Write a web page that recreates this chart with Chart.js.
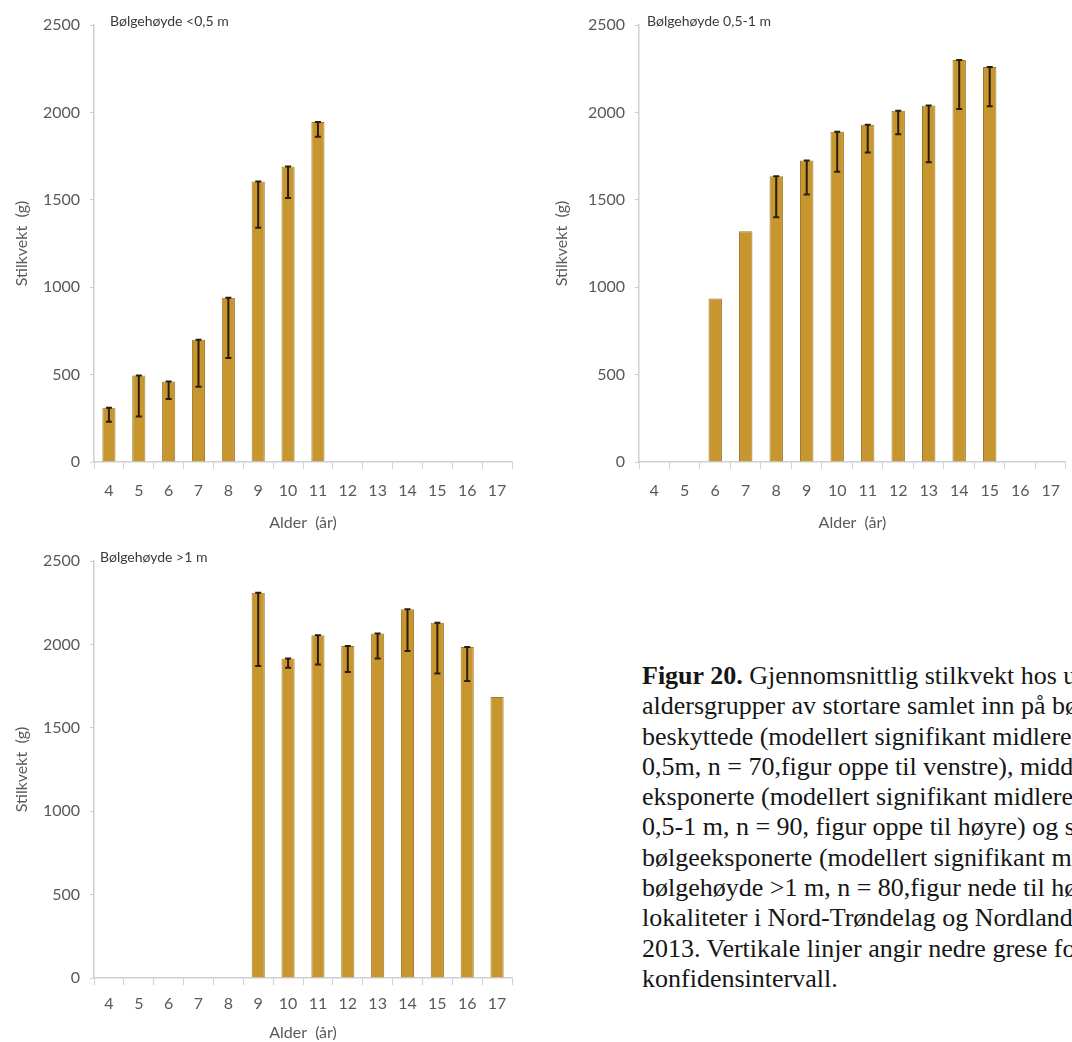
<!DOCTYPE html>
<html>
<head>
<meta charset="utf-8">
<script src="https://cdn.jsdelivr.net/npm/chart.js@4.4.1/dist/chart.umd.min.js"></script>
<style>
  html, body { margin: 0; padding: 0; background: #fff; }
  body { width: 1072px; height: 1042px; overflow: hidden; position: relative; }
  .panel { position: absolute; }
  .panel canvas { display: block; }
  #caption {
    position: absolute; left: 642px; top: 661px;
    font-family: "Liberation Serif", "Times New Roman", serif;
    font-size: 26px; line-height: 30.3px; color: #161616;
    white-space: nowrap;
  }
</style>
</head>
<body>
<div class="panel" style="left:0;top:0"><canvas id="cLow" width="540" height="532"></canvas></div>
<div class="panel" style="left:540px;top:0"><canvas id="cMid" width="532" height="532"></canvas></div>
<div class="panel" style="left:0;top:530px"><canvas id="cHigh" width="540" height="512"></canvas></div>

<div id="caption">
  <div><b>Figur 20.</b> Gjennomsnittlig stilkvekt hos ulike</div>
  <div>aldersgrupper av stortare samlet inn på bølge-</div>
  <div>beskyttede (modellert signifikant midlere bølgehøyde &lt;</div>
  <div>0,5m, n = 70,figur oppe til venstre), middels bølge-</div>
  <div>eksponerte (modellert signifikant midlere bølgehøyde</div>
  <div>0,5-1 m, n = 90, figur oppe til høyre) og sterkt</div>
  <div>bølgeeksponerte (modellert signifikant midlere</div>
  <div>bølgehøyde &gt;1 m, n = 80,figur nede til høyre) på</div>
  <div>lokaliteter i Nord-Trøndelag og Nordland i</div>
  <div>2013. Vertikale linjer angir nedre grese for</div>
  <div>konfidensintervall.</div>
</div>

<script>
// Age classes (years) shared by all three panels
const ages = ['4', '5', '6', '7', '8', '9', '10', '11', '12', '13', '14', '15', '16', '17'];
const yTicks = [0, 500, 1000, 1500, 2000, 2500];

// Wave height < 0.5 m: mean stipe weight (g) and lower confidence limit
const meanLow  = [310, 495, 460, 700, 940, 1605, 1690, 1945, null, null, null, null, null, null];
const lowerLow = [230, 260, 360, 430, 595, 1340, 1510, 1860, null, null, null, null, null, null];

// Wave height 0.5-1 m
const meanMid  = [null, null, 935, 1320, 1635, 1725, 1890, 1930, 2010, 2040, 2300, 2260, null, null];
const lowerMid = [null, null, null, null, 1400, 1530, 1660, 1770, 1875, 1715, 2020, 2035, null, null];

// Wave height > 1 m
const meanHigh  = [null, null, null, null, null, 2310, 1915, 2055, 1990, 2065, 2210, 2130, 1985, 1685];
const lowerHigh = [null, null, null, null, null, 1870, 1860, 1880, 1835, 1915, 1960, 1825, 1780, null];

const FONT = 'Lato, "Open Sans", sans-serif';
const TICK_COLOR = '#595959';
const AXIS_COLOR = '#cfcfd4';
const BAR_FILL = '#C8962E';
const BAR_EDGE = '#9E7A2E';

// Vertical line from each bar top down to its lower confidence limit
const lowerLimitBars = {
  id: 'lowerLimitBars',
  afterDatasetsDraw(chart, args, opts) {
    const meta = chart.getDatasetMeta(0);
    const y = chart.scales.y;
    const values = chart.data.datasets[0].data;
    const ctx = chart.ctx;
    ctx.save();
    ctx.strokeStyle = opts.color;
    ctx.lineWidth = opts.width;
    opts.lower.forEach((lo, i) => {
      if (lo == null || values[i] == null) return;
      const x = meta.data[i].x;
      const yTop = y.getPixelForValue(values[i]);
      const yLow = y.getPixelForValue(lo);
      ctx.beginPath();
      ctx.moveTo(x, yTop); ctx.lineTo(x, yLow);
      ctx.moveTo(x - opts.cap, yTop); ctx.lineTo(x + opts.cap, yTop);
      ctx.moveTo(x - opts.cap, yLow); ctx.lineTo(x + opts.cap, yLow);
      ctx.stroke();
    });
    ctx.restore();
  }
};

// Small panel heading in the upper-left corner of the plot
const panelHeading = {
  id: 'panelHeading',
  afterDraw(chart, args, opts) {
    const { ctx, chartArea } = chart;
    ctx.save();
    ctx.font = '14px ' + FONT;
    ctx.fillStyle = '#3a3a3a';
    ctx.textAlign = 'left';
    ctx.textBaseline = 'middle';
    ctx.fillText(opts.text, chartArea.left + opts.dx, chartArea.top + opts.dy);
    ctx.restore();
  }
};

function makePanel(id, heading, means, lower, geo) {
  return new Chart(document.getElementById(id), {
    type: 'bar',
    data: {
      labels: ages,
      datasets: [{
        data: means,
        backgroundColor: BAR_FILL,
        borderColor: BAR_EDGE,
        borderWidth: 1,
        categoryPercentage: 1,
        barPercentage: 0.44
      }]
    },
    options: {
      responsive: false,
      animation: false,
      layout: { padding: { top: geo.padTop, right: geo.padRight, left: 0, bottom: 0 } },
      plugins: {
        legend: { display: false },
        tooltip: { enabled: false },
        lowerLimitBars: { lower: lower, color: '#2a1d0c', width: 2, cap: 3 },
        panelHeading: { text: heading, dx: geo.headDx, dy: -4 }
      },
      scales: {
        x: {
          offset: true,
          grid: { offset: true, drawOnChartArea: false, color: AXIS_COLOR, tickLength: 7 },
          border: { color: AXIS_COLOR, width: 1.5 },
          ticks: { color: TICK_COLOR, font: { family: FONT, size: 16 }, padding: geo.xPad, maxRotation: 0, autoSkip: false },
          title: { display: true, text: 'Alder  (år)', color: TICK_COLOR, font: { family: FONT, size: 16 }, padding: 0 },
          afterFit: s => { s.height = geo.xH; }
        },
        y: {
          min: 0, max: 2500,
          afterBuildTicks: s => { s.ticks = yTicks.map(v => ({ value: v })); },
          grid: { drawOnChartArea: false, color: AXIS_COLOR, tickLength: 4 },
          border: { color: AXIS_COLOR, width: 1.5 },
          ticks: { color: TICK_COLOR, font: { family: FONT, size: 16 }, padding: 10, callback: v => String(v) },
          title: { display: true, text: 'Stilkvekt  (g)', color: TICK_COLOR, font: { family: FONT, size: 16 }, padding: { top: 12, bottom: 0 } },
          afterFit: s => { s.width = geo.yW; }
        }
      }
    },
    plugins: [lowerLimitBars, panelHeading]
  });
}

makePanel('cLow',  'Bølgehøyde <0,5 m',  meanLow,  lowerLow,  { padTop: 25, padRight: 28, xH: 70, yW: 94, xPad: 12, headDx: 16 });
makePanel('cMid',  'Bølgehøyde 0,5-1 m', meanMid,  lowerMid,  { padTop: 25, padRight: 1,  xH: 70, yW: 99, xPad: 12, headDx: 8 });
makePanel('cHigh', 'Bølgehøyde >1 m',    meanHigh, lowerHigh, { padTop: 31, padRight: 28, xH: 64, yW: 94, xPad: 9,  headDx: 6 });
</script>
</body>
</html>
